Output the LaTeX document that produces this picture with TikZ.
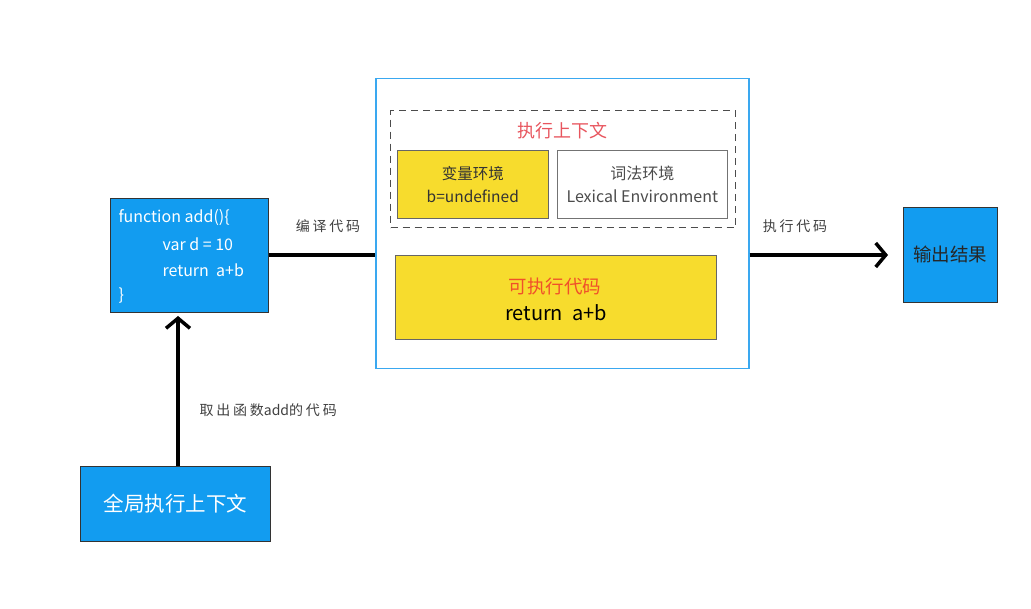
\documentclass[tikz,border=0pt]{standalone}
\usepackage{fontspec}
\setmainfont{Noto Sans CJK SC}
\newfontfamily\lblfont[LetterSpace=20]{Noto Sans CJK SC}
\usetikzlibrary{arrows.meta}
\definecolor{bblue}{HTML}{129CF0}
\definecolor{byellow}{HTML}{F7DC2D}
\definecolor{ttl}{HTML}{E8555E}
\definecolor{tor}{HTML}{F0502A}
\definecolor{cblue}{HTML}{3AA8F0}
\tikzset{
  bluebox/.style={draw=black!80, line width=0.8pt, fill=bblue, inner sep=0pt},
  yelbox/.style={draw=black!60, line width=0.6pt, fill=byellow, inner sep=0pt},
  flow/.style={line width=3.5pt, black},
  chev/.style={-{Straight Barb[length=10pt,width=24pt,line width=3.5pt]}},
  lbl/.style={font=\lblfont\fontsize{14}{16}\selectfont, text=black!75},
  codetxt/.style={anchor=west, text=white, font=\fontsize{16}{18}\selectfont},
}
\begin{document}
\begin{tikzpicture}[x=1pt,y=-1pt]
\useasboundingbox (0,0) rectangle (1031,609);
% code box
\node[bluebox, minimum width=158pt, minimum height=114pt, anchor=north west] (code) at (110,198) {};
\node[codetxt] (c1) at (115,218) {function add()\{};
\node[codetxt] (c2) at (159,244) {var d = 10};
\node[codetxt] (c3) at (159,270) {return\ \ a+b};
\node[codetxt] (c4) at (115,296) {\}};
% global box
\node[bluebox, minimum width=190pt, minimum height=75pt, anchor=north west, text=white, font=\fontsize{20.5}{24}\selectfont] (glob) at (80,466) {全局执行上下文};
% container
\node[draw=cblue, line width=1.5pt, fill=white, minimum width=373pt, minimum height=290pt, anchor=north west, inner sep=0pt] (cont) at (375,78) {};
\node[draw=black!70, dashed, dash pattern=on 7pt off 5pt, line width=1.3pt, minimum width=345pt, minimum height=117pt, anchor=north west, inner sep=0pt] (ec) at (390,110) {};
\node[text=ttl, font=\fontsize{18}{20}\selectfont] (ectitle) at (562,131) {执行上下文};
\node[yelbox, minimum width=151pt, minimum height=68pt, anchor=north west, align=center, font=\fontsize{15.5}{23}\selectfont, text=black!80] (venv) at (397,150) {变量环境\\b=undefined};
\node[draw=black!55, line width=0.6pt, fill=white, minimum width=170pt, minimum height=68pt, anchor=north west, inner sep=0pt, align=center, font=\fontsize{16}{23}\selectfont, text=black!70] (lenv) at (557,150) {词法环境\\Lexical Environment};
\node[yelbox, minimum width=321pt, minimum height=84pt, anchor=north west, inner sep=0pt] (exe) at (395,255) {};
\node[text=tor, font=\fontsize{18.5}{20}\selectfont] (exet) at (555,286) {可执行代码};
\node[text=black, font=\fontsize{20}{22}\selectfont] (exec) at (556,313) {return\ \ a+b};
% output
\node[bluebox, minimum width=94pt, minimum height=95pt, anchor=north west, text=black!85, font=\fontsize{18.5}{20}\selectfont] (out) at (903,207) {输出结果};
% connectors
\coordinate (ci) at (code.east |- 0,255);
\coordinate (cin) at (cont.west |- 0,255);
\draw[flow] (ci) -- (cin);
\node[lbl] (l1) at (328,226) {编译代码};
\coordinate (co) at (cont.east |- 0,255);
\coordinate (oi) at (888,255);
\draw[flow, chev] (co) -- (oi);
\node[lbl] (l2) at (795,226) {执行代码};
\draw[flow, chev] (glob.north -| 178,0) -- (178,316);
\node[lbl, anchor=west] (l3) at (196,410) {取出函数{\normalfont add}的代码};
\end{tikzpicture}
\end{document}
